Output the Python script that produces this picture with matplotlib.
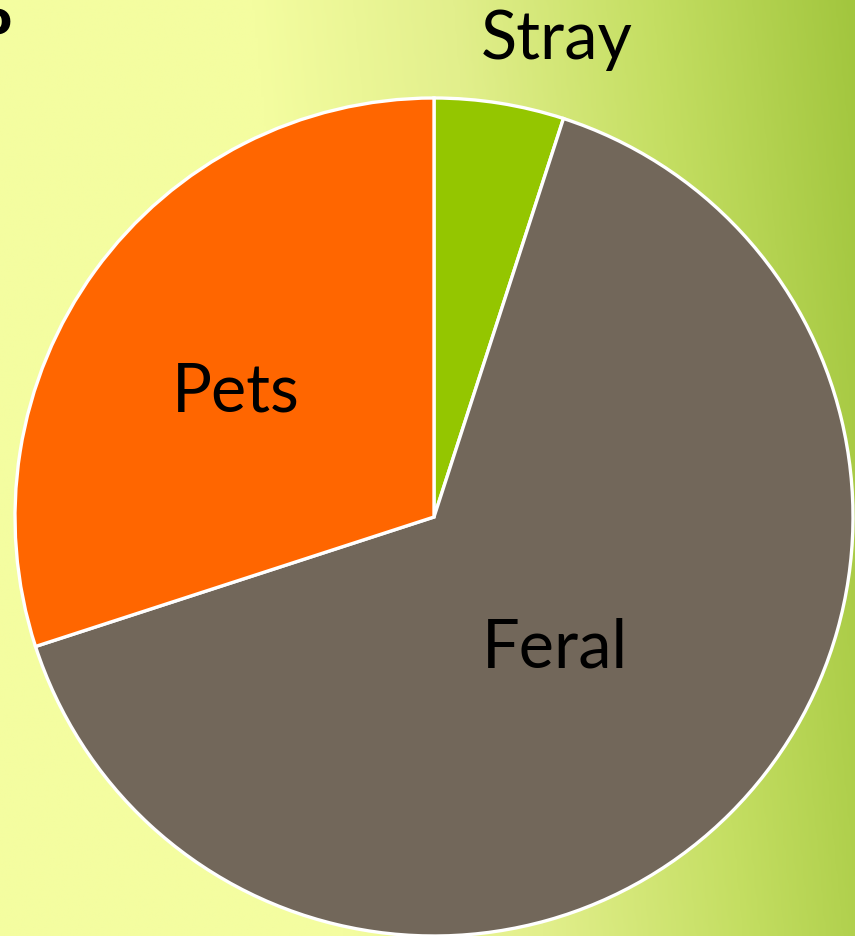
import numpy as np
import matplotlib
matplotlib.use('Agg')
import matplotlib.pyplot as plt
from matplotlib.colors import LinearSegmentedColormap

# pie data (percent of cats), clockwise from 12 o'clock
categories = ['Stray', 'Feral', 'Pets']
shares = [5, 65, 30]
colors = ['#94C600', '#72675A', '#FF6600']

W, H = 855, 937
fig = plt.figure(figsize=(W / 100, H / 100), dpi=100)
ax = fig.add_axes([0, 0, 1, 1])

# background: pale yellow on the left fading to green on the right
xx, yy = np.meshgrid(np.linspace(0, 1, 300), np.linspace(0, 1, 300))
t = np.clip((xx - 0.4) / 0.6 * 0.85 + yy * 0.15, 0, 1)
bg_cmap = LinearSegmentedColormap.from_list('bg', ['#F4FDA0', '#E2EF8C', '#C4DE62', '#A2C63E'])
ax.imshow(t, cmap=bg_cmap, extent=[0, W, 0, H], origin='lower', aspect='auto',
          zorder=0, interpolation='bilinear')

# the pie itself
ax.pie(shares, colors=colors, startangle=90, counterclock=False,
       center=(434, H - 518), radius=419,
       wedgeprops=dict(edgecolor='white', linewidth=2.4), frame=True)
ax.set_xlim(0, W)
ax.set_ylim(0, H)
ax.set_aspect('equal')
ax.axis('off')

label_font = dict(family=['Lato', 'DejaVu Sans'], fontsize=48, color='black')
ax.text(557, H - 40, 'Stray', ha='center', va='center', **label_font)
ax.text(236, H - 393, 'Pets', ha='center', va='center', **label_font)
ax.text(555, H - 648, 'Feral', ha='center', va='center', **label_font)

# clipped glyph from a title that runs off the top-left edge
fig.text(12 / W, 1 - 22 / H, 'o', ha='right', va='center', fontsize=34,
         fontweight='bold', family='DejaVu Sans', color='black')

fig.savefig('out.png', dpi=100)
